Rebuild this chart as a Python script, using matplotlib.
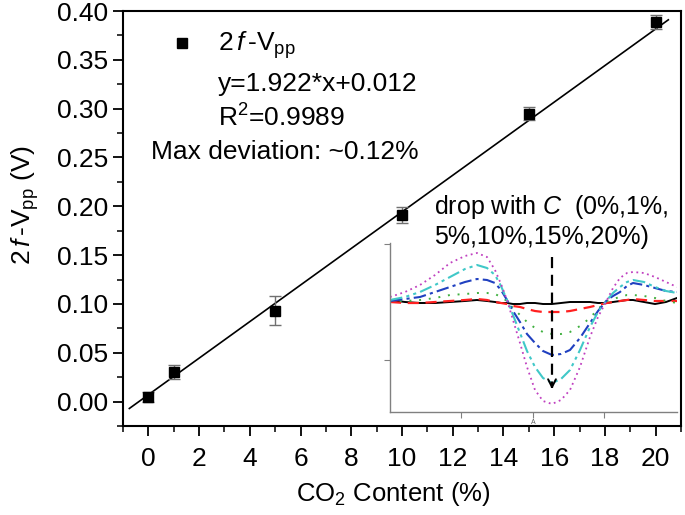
import matplotlib
matplotlib.use("Agg")
import matplotlib.pyplot as plt
import numpy as np
from matplotlib.ticker import MultipleLocator, FormatStrFormatter

plt.rcParams['font.family'] = ['Liberation Sans', 'DejaVu Sans']
plt.rcParams['mathtext.fontset'] = 'custom'
plt.rcParams['mathtext.rm'] = 'Liberation Sans'
plt.rcParams['mathtext.it'] = 'Liberation Sans:italic'

# ---- main data ----
co2 = [0, 1, 5, 10, 15, 20]
vpp = [0.005, 0.030, 0.093, 0.191, 0.295, 0.389]
vpp_err = [0.005, 0.007, 0.015, 0.008, 0.007, 0.007]
fit_slope = 0.01873
fit_intercept = 0.007
fit_range = [-0.75, 20.5]

xticks = [0, 2, 4, 6, 8, 10, 12, 14, 16, 18, 20]

# ---- inset data (arbitrary units) ----
inset_x = [0, 15, 30, 45, 60, 75, 87, 97, 105, 111, 117, 123, 130, 137, 145, 153,
           162, 171, 180, 190, 200, 208, 217, 223, 230, 237, 243, 254, 265, 276, 287]
inset_c20 = [115, 120, 127, 137, 149, 156, 159, 155, 142, 128, 112, 92, 69, 45, 22, 11,
             8, 12, 22, 45, 75, 95, 112, 124, 134, 139, 140, 139, 135, 130, 125]
inset_c15 = [112, 115, 120, 127, 135, 143, 147, 144, 137, 126, 112, 97, 79, 61, 45, 34,
             29, 33, 42, 62, 85, 100, 112, 119, 125, 130, 132, 130, 125, 121, 119]
inset_c10 = [111, 113, 115, 120, 125, 130, 133, 132, 129, 122, 112, 101, 90, 78, 69, 61,
             57, 58, 62, 74, 89, 101, 112, 116, 120, 126, 129, 127, 124, 121, 120]
inset_c5 = [111, 111, 112, 114, 117, 118, 119, 119, 118, 115, 111, 104, 97, 90, 84, 80,
            78, 78, 80, 86, 94, 103, 111, 113, 115, 117, 117, 116, 114, 111, 109]
inset_c1 = [110, 109, 109, 110, 111, 112, 113, 112, 110, 109, 108, 106, 105, 103, 101, 100,
            100, 100, 101, 103, 105, 107, 109, 110, 111, 112, 113, 112, 111, 111, 111]
inset_c0 = [112, 110, 109, 109, 110, 111, 112, 111, 110, 109, 109, 108, 108, 109, 109, 108,
            108, 109, 110, 110, 110, 109, 109, 110, 111, 112, 112, 110, 108, 110, 114]

FS = 19

fig = plt.figure(figsize=(6.85, 5.15), dpi=100)
ax = fig.add_axes([123/685, 1-426/515, (681-123)/685, (426-11)/515])

ax.errorbar(co2, vpp, yerr=vpp_err, fmt='s', color='black', markersize=7,
            ecolor='#707070', elinewidth=1.0, capsize=4, capthick=1.0, zorder=3)
fx = np.array(fit_range)
ax.plot(fx, fit_slope*fx + fit_intercept, color='black', lw=1.2, zorder=2)

ax.set_xlim(-1, 21)
ax.set_ylim(-0.025, 0.40)
ax.set_xticks(xticks)
ax.xaxis.set_minor_locator(MultipleLocator(1))
ax.yaxis.set_major_locator(MultipleLocator(0.05))
ax.yaxis.set_minor_locator(MultipleLocator(0.025))
ax.yaxis.set_major_formatter(FormatStrFormatter('%.2f'))
ax.tick_params(which='major', direction='out', length=7, width=1.3, labelsize=FS)
ax.tick_params(axis='x', which='major', pad=8)
ax.tick_params(which='minor', direction='out', length=4, width=1.1)
for s in ax.spines.values():
    s.set_linewidth(1.5)

fig.text(393/685, 1-494/515, 'CO$_2$ Content (%)', fontsize=18.5, ha='center', va='center')
fig.text(25/685, 1-205/515, '2$\\,\\mathit{f}\\,$-V$_{\\rm pp}$ (V)', fontsize=FS, ha='center',
         va='center', rotation=90)

# legend-like annotations
ax.plot([-1 + (182-123)/25.3], [(401-43)/975], 's', color='black', markersize=7,
        clip_on=False)
fig.text(218/685, 1-45/515, '2$\\,\\mathit{f}\\,$-V$_{\\rm pp}$', fontsize=FS, va='center', ha='left')
fig.text(218/685, 1-84/515, 'y=1.922*x+0.012', fontsize=FS, va='center', ha='left')
fig.text(218/685, 1-118/515, 'R$^2$=0.9989', fontsize=FS, va='center', ha='left')
fig.text(151/685, 1-152/515, 'Max deviation: ~0.12%', fontsize=FS, va='center', ha='left')

# ---- inset ----
ins = fig.add_axes([390/685, 1-412/515, 287/685, 169/515])
ins.patch.set_alpha(0)
ins.set_xlim(0, 287)
ins.set_ylim(0, 169)
ins.plot(inset_x, inset_c0, color='black', lw=1.4, ls='-')
ins.plot(inset_x, inset_c1, color='#ff2020', lw=1.6, ls=(0, (5, 3)))
ins.plot(inset_x, inset_c5, color='#40b040', lw=1.4, ls=(0, (1, 4)))
ins.plot(inset_x, inset_c10, color='#2040c0', lw=1.5, ls=(0, (6, 2, 1.5, 2)))
ins.plot(inset_x, inset_c15, color='#40c8c8', lw=1.5, ls=(0, (6, 2, 1.5, 2, 1.5, 2)))
ins.plot(inset_x, inset_c20, color='#c040c0', lw=1.3, ls=(0, (1, 2)))
ins.plot([162, 162], [155, 24], color='black', lw=1.6, ls=(0, (5, 3)))
ins.annotate('', xy=(162, 20), xytext=(162, 30),
             arrowprops=dict(arrowstyle='->', color='black', lw=1.4, mutation_scale=14))
for sp in ['top', 'right']:
    ins.spines[sp].set_visible(False)
for sp in ['left', 'bottom']:
    ins.spines[sp].set_color('#808080')
    ins.spines[sp].set_linewidth(1.0)
ins.set_xticks([71, 143, 214])
ins.set_yticks([52, 168])
ins.tick_params(direction='out', length=4, width=0.8, color='#808080',
                labelbottom=False, labelleft=False)
ins.text(143, -10, 'A', fontsize=5, color='#606060', ha='center', va='center')

fig.text(434/685, 1-207/515, 'drop with $\\mathit{C}$  (0%,1%,', fontsize=18, va='center', ha='left')
fig.text(434/685, 1-237/515, '5%,10%,15%,20%)', fontsize=18, va='center', ha='left')

fig.savefig('out.png', dpi=100)
